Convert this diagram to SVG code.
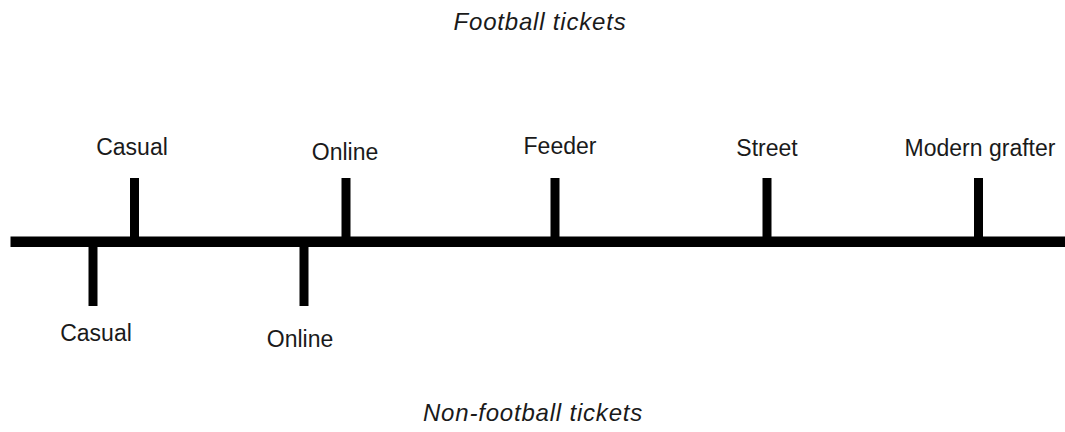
<svg xmlns="http://www.w3.org/2000/svg" width="1065" height="432" viewBox="0 0 1065 432">
<style>
.lbl{font-family:"Liberation Sans",Arial,sans-serif;font-size:23px;fill:#1a1a1a;text-anchor:middle}
.ttl{font-family:"Liberation Sans",Arial,sans-serif;font-size:24px;letter-spacing:0.8px;font-style:italic;fill:#1a1a1a;text-anchor:middle}
.bar{stroke:#000;stroke-width:9;fill:none}
.axis{stroke:#000;stroke-width:10.5;fill:none}
</style>
<rect width="1065" height="432" fill="#fff"/>
<text class="ttl" x="540" y="30">Football tickets</text>
<text class="ttl" x="533" y="421">Non-football tickets</text>
<g id="connectors">
<line class="axis" x1="10.5" y1="241.8" x2="1065" y2="241.8"/>
</g>
<g id="casual-football"><line class="bar" x1="134.5" y1="178" x2="134.5" y2="242"/><text class="lbl" x="132" y="155">Casual</text></g>
<g id="online-football"><line class="bar" x1="346" y1="178" x2="346" y2="242"/><text class="lbl" x="345" y="160">Online</text></g>
<g id="feeder"><line class="bar" x1="555" y1="178" x2="555" y2="242"/><text class="lbl" x="560" y="154">Feeder</text></g>
<g id="street"><line class="bar" x1="767" y1="178" x2="767" y2="242"/><text class="lbl" x="767" y="156">Street</text></g>
<g id="modern-grafter"><line class="bar" x1="978.5" y1="178" x2="978.5" y2="242"/><text class="lbl" x="980" y="156">Modern grafter</text></g>
<g id="casual-nonfootball"><line class="bar" x1="93" y1="242" x2="93" y2="306"/><text class="lbl" x="96" y="341">Casual</text></g>
<g id="online-nonfootball"><line class="bar" x1="304" y1="242" x2="304" y2="306"/><text class="lbl" x="300" y="347">Online</text></g>
</svg>
